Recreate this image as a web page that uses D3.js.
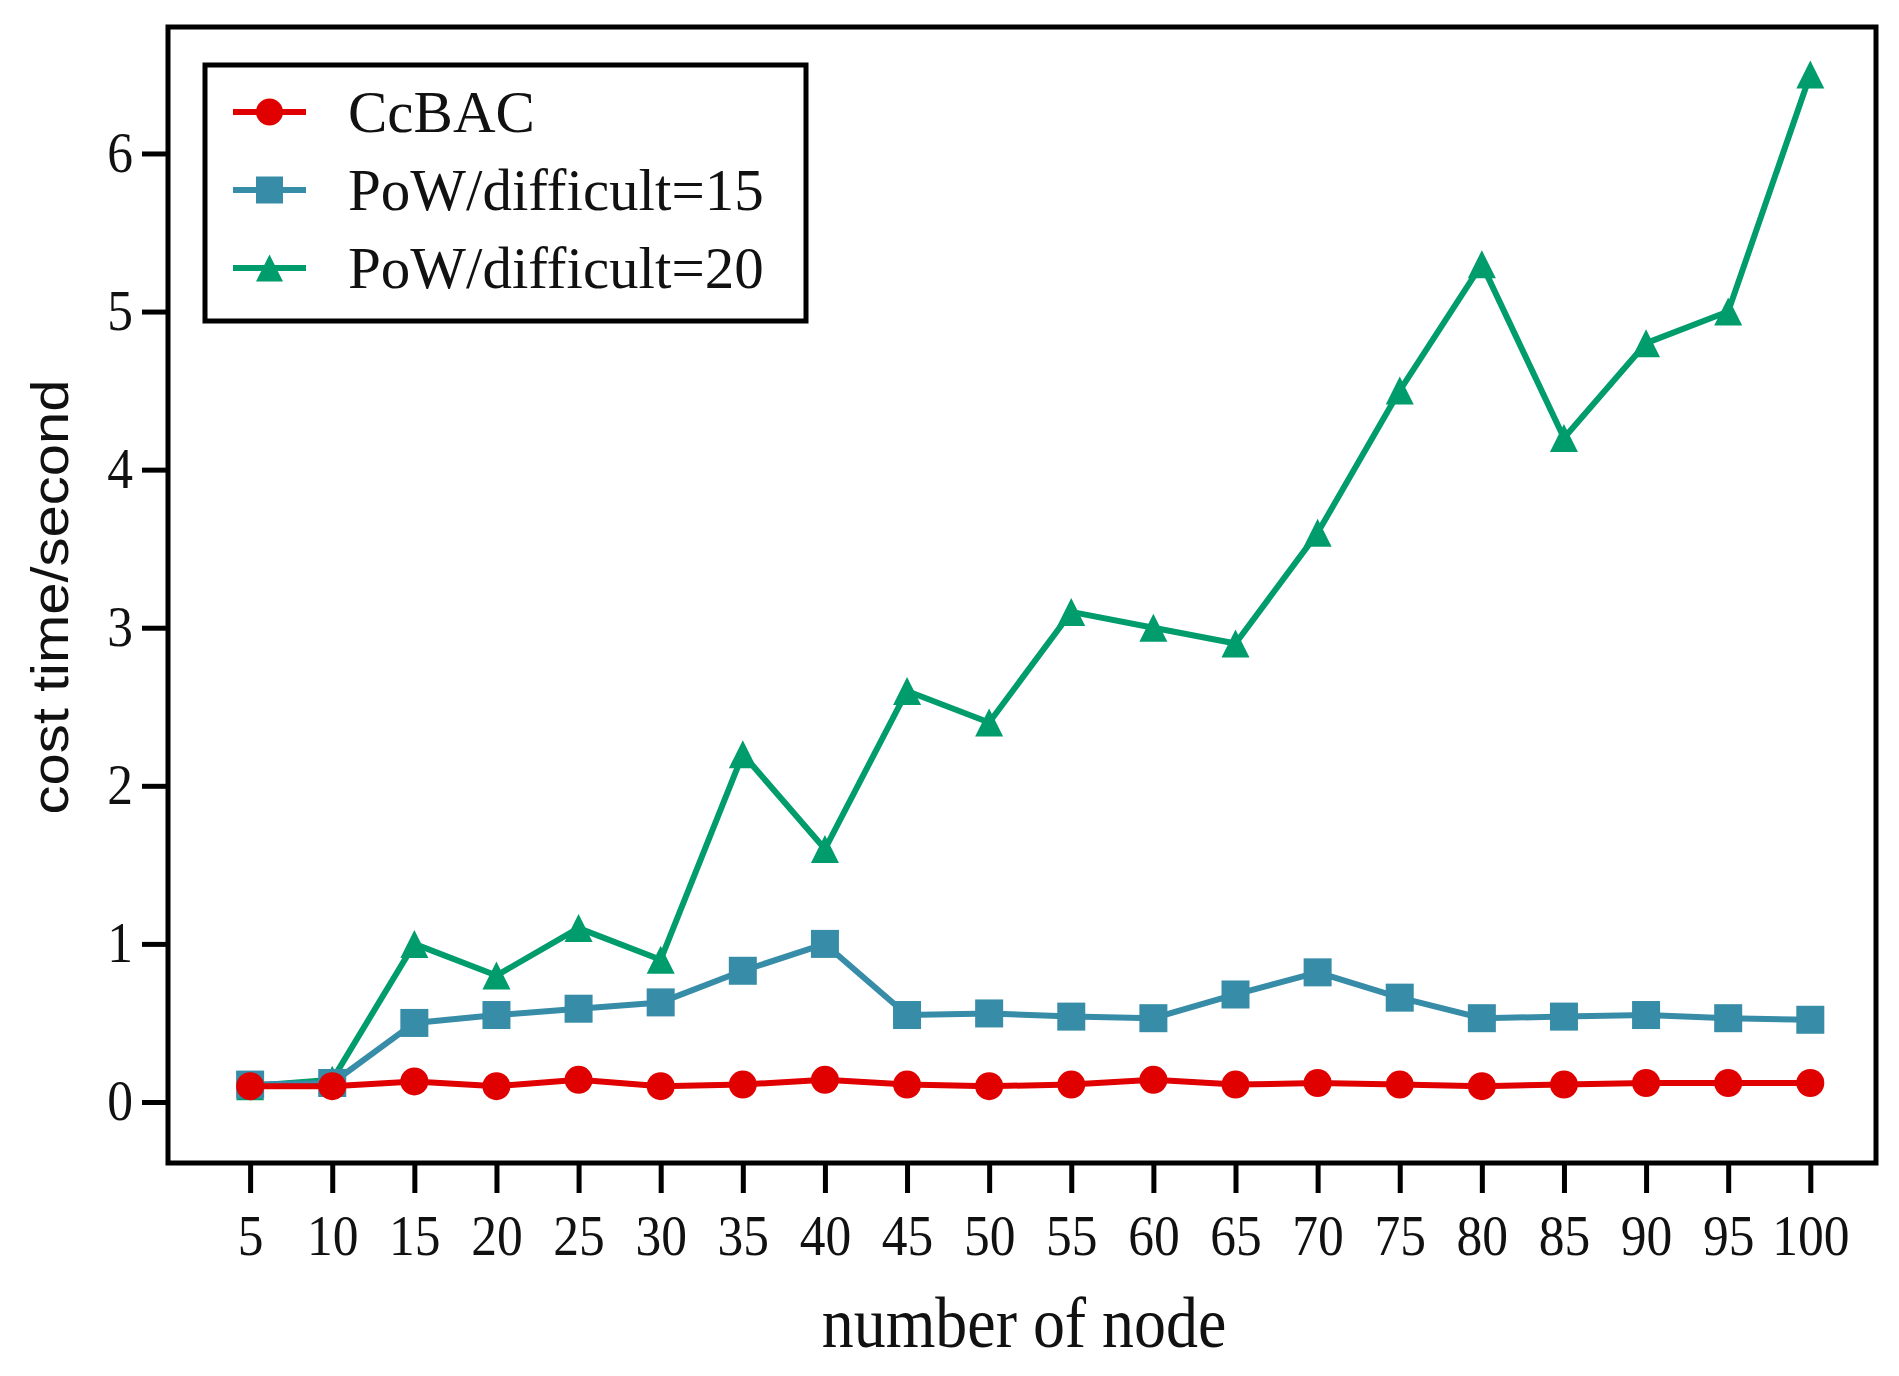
<!DOCTYPE html>
<html>
<head>
    <meta charset="UTF-8">
    <title>cost time vs number of node</title>
    <script src="https://d3js.org/d3.v7.min.js"></script>
    <style>
        body {
            margin: 0;
            padding: 0;
            background: #fff;
        }
        svg text {
            fill: #111;
        }
    </style>
</head>
<body>
    <svg id="chart" width="1899" height="1376"></svg>

    <script>
        // data
        const nodes = [5, 10, 15, 20, 25, 30, 35, 40, 45, 50, 55, 60, 65, 70, 75, 80, 85, 90, 95, 100];
        const ccbac = [0.10, 0.10, 0.13, 0.10, 0.14, 0.10, 0.11, 0.14, 0.11, 0.10, 0.11, 0.14, 0.11, 0.12, 0.11, 0.10, 0.11, 0.12, 0.12, 0.12];
        const pow15 = [0.11, 0.12, 0.50, 0.55, 0.59, 0.63, 0.83, 1.00, 0.55, 0.56, 0.54, 0.53, 0.68, 0.82, 0.66, 0.53, 0.54, 0.55, 0.53, 0.52];
        const pow20 = [0.10, 0.14, 1.00, 0.80, 1.10, 0.90, 2.20, 1.60, 2.60, 2.40, 3.10, 3.00, 2.90, 3.60, 4.50, 5.30, 4.20, 4.80, 5.00, 6.50];
        const yTicks = [0, 1, 2, 3, 4, 5, 6];

        const series = [
            { name: "PoW/difficult=20", values: pow20, color: "#009c6c", shape: "triangle" },
            { name: "PoW/difficult=15", values: pow15, color: "#378ca8", shape: "square" },
            { name: "CcBAC", values: ccbac, color: "#e00000", shape: "circle" }
        ];
        const legendOrder = ["CcBAC", "PoW/difficult=15", "PoW/difficult=20"];

        const frame = { left: 168, top: 27, right: 1876, bottom: 1163 };

        const svg = d3.select("#chart");

        const x = d3.scaleLinear()
            .domain([0, 104])
            .range([frame.left, frame.right]);

        const y = d3.scaleLinear()
            .domain([-0.386, 6.8])
            .range([frame.bottom, frame.top]);

        const serif = "'Liberation Serif', 'Times New Roman', serif";

        // x axis
        const xAxis = svg.append("g")
            .attr("transform", `translate(0,${frame.bottom})`)
            .call(d3.axisBottom(x).tickValues(nodes).tickSize(30).tickPadding(22));
        xAxis.select(".domain").remove();
        xAxis.selectAll("line").attr("stroke", "#000").attr("stroke-width", 5);
        xAxis.selectAll("text")
            .style("font-family", serif)
            .style("font-size", "56px")
            .attr("transform", "scale(0.92,1)");

        // y axis
        const yAxis = svg.append("g")
            .attr("transform", `translate(${frame.left},0)`)
            .call(d3.axisLeft(y).tickValues(yTicks).tickSize(26).tickPadding(12));
        yAxis.select(".domain").remove();
        yAxis.selectAll("line").attr("stroke", "#000").attr("stroke-width", 5);
        yAxis.selectAll("text")
            .style("font-family", serif)
            .style("font-size", "56px")
            .attr("transform", "scale(0.92,1)");

        // plot frame
        svg.append("rect")
            .attr("x", frame.left)
            .attr("y", frame.top)
            .attr("width", frame.right - frame.left)
            .attr("height", frame.bottom - frame.top)
            .attr("fill", "none")
            .attr("stroke", "#000")
            .attr("stroke-width", 5);

        // axis titles
        svg.append("text")
            .attr("transform", "translate(1024,1347) scale(0.9,1)")
            .attr("text-anchor", "middle")
            .style("font-family", serif)
            .style("font-size", "71px")
            .text("number of node");

        svg.append("text")
            .attr("transform", "translate(68,597) scale(0.9,1) rotate(-90)")
            .attr("text-anchor", "middle")
            .style("font-family", "'Liberation Sans', Arial, sans-serif")
            .style("font-size", "58px")
            .text("cost time/second");

        function drawMarker(g, shape, color, size) {
            if (shape === "circle") {
                g.append("circle").attr("r", size / 2).attr("fill", color);
            } else if (shape === "square") {
                g.append("rect")
                    .attr("x", -size / 2).attr("y", -size / 2)
                    .attr("width", size).attr("height", size)
                    .attr("fill", color);
            } else {
                const h = size;
                g.append("path")
                    .attr("d", `M0,${-h / 2}L${size / 2},${h / 2}L${-size / 2},${h / 2}Z`)
                    .attr("fill", color);
            }
        }

        const line = d3.line()
            .x((d, i) => x(nodes[i]))
            .y(d => y(d));

        series.forEach(s => {
            svg.append("path")
                .datum(s.values)
                .attr("fill", "none")
                .attr("stroke", s.color)
                .attr("stroke-width", 6)
                .attr("stroke-linejoin", "round")
                .attr("d", line);

            svg.append("g")
                .selectAll("g")
                .data(s.values)
                .enter()
                .append("g")
                .attr("transform", (d, i) => `translate(${x(nodes[i])},${y(d)})`)
                .each(function () {
                    drawMarker(d3.select(this), s.shape, s.color, 28);
                });
        });

        // legend
        const legend = svg.append("g");
        legend.append("rect")
            .attr("x", 205)
            .attr("y", 65)
            .attr("width", 601)
            .attr("height", 256)
            .attr("fill", "#fff")
            .attr("stroke", "#000")
            .attr("stroke-width", 5);

        legendOrder.forEach((name, i) => {
            const s = series.find(d => d.name === name);
            const row = legend.append("g")
                .attr("transform", `translate(0,${112 + i * 78})`);
            row.append("line")
                .attr("x1", 233).attr("x2", 306)
                .attr("stroke", s.color)
                .attr("stroke-width", 6);
            const m = row.append("g").attr("transform", "translate(269.5,0)");
            drawMarker(m, s.shape, s.color, 27);
            row.append("text")
                .attr("x", 348)
                .attr("dy", "0.34em")
                .style("font-family", serif)
                .style("font-size", "59px")
                .text(name);
        });
    </script>
</body>
</html>
